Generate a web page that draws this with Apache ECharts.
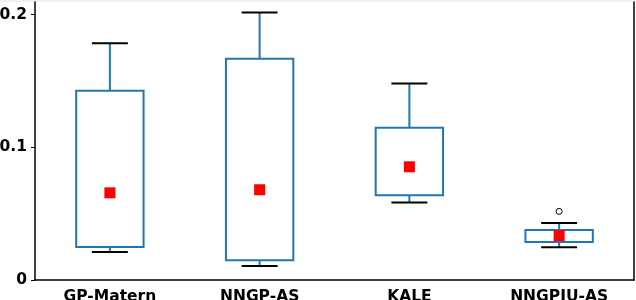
<!DOCTYPE html>
<html>
<head>
<meta charset="utf-8">
<script src="https://cdn.jsdelivr.net/npm/echarts@6/dist/echarts.min.js"></script>
<style>
html,body{margin:0;padding:0;background:#fff;}
#c{width:636px;height:300px;}
</style>
</head>
<body>
<div id="c"></div>
<script>
const categories = ['GP-Matern', 'NNGP-AS', 'KALE', 'NNGPIU-AS'];
const whiskerLow = [0.0211, 0.0105, 0.0584, 0.0246];
const q1 = [0.0248, 0.0148, 0.0639, 0.0286];
const q3 = [0.1426, 0.1667, 0.1148, 0.0376];
const whiskerHigh = [0.1785, 0.2015, 0.1480, 0.0429];
const means = [0.0657, 0.0680, 0.0853, 0.0334];
const outliers = [[3, 0.0517]];
const yTicks = [0, 0.1, 0.2];

const boxData = categories.map((c, i) => [i, whiskerLow[i], q1[i], q3[i], whiskerHigh[i]]);
const meanData = categories.map((c, i) => [i, means[i]]);

const BLUE = '#1f77b4';
const chart = echarts.init(document.getElementById('c'), null, {renderer: 'canvas'});

function renderBox(params, api) {
  const i = api.value(0);
  const band = api.size([1, 0])[0];
  const boxW = band * 0.45;
  const capW = band * 0.24;
  const pLow = api.coord([i, api.value(1)]);
  const pQ1 = api.coord([i, api.value(2)]);
  const pQ3 = api.coord([i, api.value(3)]);
  const pHigh = api.coord([i, api.value(4)]);
  const x = pLow[0];
  return {
    type: 'group',
    children: [
      {type: 'line', shape: {x1: x, y1: pQ1[1], x2: x, y2: pLow[1]}, style: {stroke: BLUE, lineWidth: 2}},
      {type: 'line', shape: {x1: x, y1: pQ3[1], x2: x, y2: pHigh[1]}, style: {stroke: BLUE, lineWidth: 2}},
      {type: 'rect', shape: {x: x - boxW / 2, y: pQ3[1], width: boxW, height: pQ1[1] - pQ3[1]}, style: {fill: 'none', stroke: BLUE, lineWidth: 2}},
      {type: 'line', shape: {x1: x - capW / 2, y1: pLow[1], x2: x + capW / 2, y2: pLow[1]}, style: {stroke: '#000', lineWidth: 2}},
      {type: 'line', shape: {x1: x - capW / 2, y1: pHigh[1], x2: x + capW / 2, y2: pHigh[1]}, style: {stroke: '#000', lineWidth: 2}}
    ]
  };
}

const labelFont = {fontFamily: 'DejaVu Sans', fontWeight: 'bold', fontSize: 15.5, color: '#000'};

chart.setOption({
  animation: false,
  backgroundColor: '#fff',
  graphic: [{type: 'rect', left: 0, top: 0, shape: {width: 636, height: 2}, style: {fill: '#f0f0f0'}, z: -1}],
  grid: {left: 35, right: 2, top: 2, bottom: 20, containLabel: false, outerBoundsMode: 'none'},
  xAxis: {
    type: 'category',
    data: categories,
    boundaryGap: true,
    axisLine: {lineStyle: {color: '#000', width: 1.5}},
    axisTick: {alignWithLabel: true, length: 3, lineStyle: {color: '#000'}},
    axisLabel: Object.assign({margin: 9, interval: 0}, labelFont),
    splitLine: {show: false}
  },
  yAxis: [{
    type: 'value',
    min: 0,
    max: 0.2095,
    interval: 0.1,
    axisLine: {show: true, lineStyle: {color: '#000', width: 1.5}},
    axisTick: {show: true, length: 4, lineStyle: {color: '#000'}, customValues: yTicks},
    axisLabel: Object.assign({margin: 8, customValues: yTicks, formatter: v => String(v)}, labelFont),
    splitLine: {show: false}
  }, {
    type: 'value',
    position: 'right',
    min: 0,
    max: 0.2095,
    axisLine: {show: true, lineStyle: {color: '#000', width: 1.5}},
    axisTick: {show: false},
    axisLabel: {show: false},
    splitLine: {show: false}
  }],
  series: [
    {type: 'custom', renderItem: renderBox, data: boxData, encode: {x: 0, y: [1, 2, 3, 4]}, z: 2},
    {type: 'scatter', data: meanData, symbol: 'rect', symbolSize: 11, itemStyle: {color: '#ff0000', opacity: 1}, z: 3},
    {type: 'scatter', data: outliers, symbol: 'circle', symbolSize: 6, itemStyle: {color: '#fff', borderColor: '#000', borderWidth: 1, opacity: 1}, z: 3}
  ]
});
</script>
</body>
</html>
